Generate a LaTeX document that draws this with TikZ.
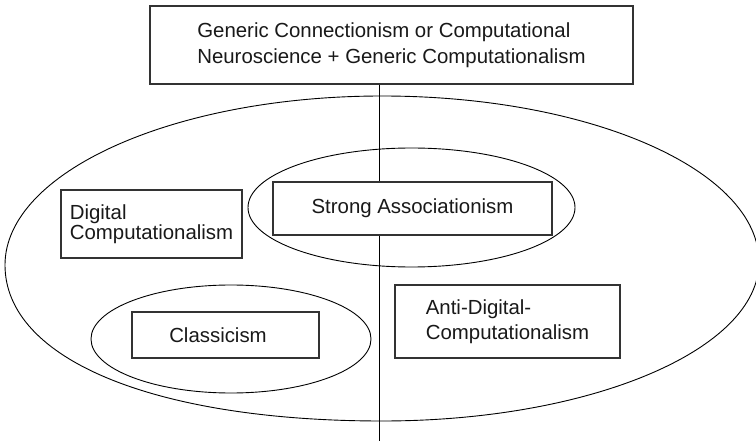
\documentclass[tikz,border=0pt]{standalone}
\usepackage{fontspec}
\setmainfont{Liberation Sans}
\usetikzlibrary{shapes.geometric}
\tikzset{
  box/.style={draw=black!80, fill=white, line width=1.1pt, inner sep=0pt, align=left, text=black!90},
  oval/.style={draw, ellipse, line width=0.9pt, inner sep=0pt},
  conn/.style={draw, line width=0.9pt}
}
\begin{document}
\begin{tikzpicture}[x=1pt,y=-1pt]
\useasboundingbox (0,0) rectangle (756,441);
% big outer shape
\coordinate (bl) at (5,265);
\coordinate (bt) at (382,96);
\coordinate (br) at (759,262);
\coordinate (bb) at (382,421);
\draw[conn] (bl) .. controls (5,172) and (174,96) .. (bt)
                 .. controls (590,96) and (759,170) .. (br)
                 .. controls (759,350) and (590,421) .. (bb)
                 .. controls (156,421) and (5,360) .. (bl) -- cycle;
% inner ellipses
\node[oval, minimum width=327pt, minimum height=119pt] (strongov) at (411.5,207.5) {};
\node[oval, minimum width=280pt, minimum height=108pt] (classov) at (231,339) {};
% top box
\node[box, minimum width=483pt, minimum height=78pt, font=\fontsize{20.4}{26}\selectfont] (top) at (391.5,45)
  {Generic Connectionism or Computational\\Neuroscience + Generic Computationalism};
% vertical line
\coordinate (lb) at (379,441);
\draw[conn] (top.south -| lb) -- (lb);
% inner boxes
\node[box, minimum width=279pt, minimum height=53pt, font=\fontsize{20.4}{24}\selectfont] (strong) at (412.5,208.5)
  {Strong Associationism};
\node[box, minimum width=181pt, minimum height=68pt, font=\fontsize{20.4}{20}\selectfont] (digital) at (151.5,224)
  {Digital\\Computationalism};
\node[box, minimum width=187pt, minimum height=46pt, font=\fontsize{20.4}{24}\selectfont] (classic) at (225.5,335)
  {Classicism\hspace*{15pt}};
\node[box, minimum width=225pt, minimum height=73pt, font=\fontsize{20.4}{25}\selectfont] (anti) at (507.5,321.5)
  {Anti-Digital-\\Computationalism};
\end{tikzpicture}
\end{document}
